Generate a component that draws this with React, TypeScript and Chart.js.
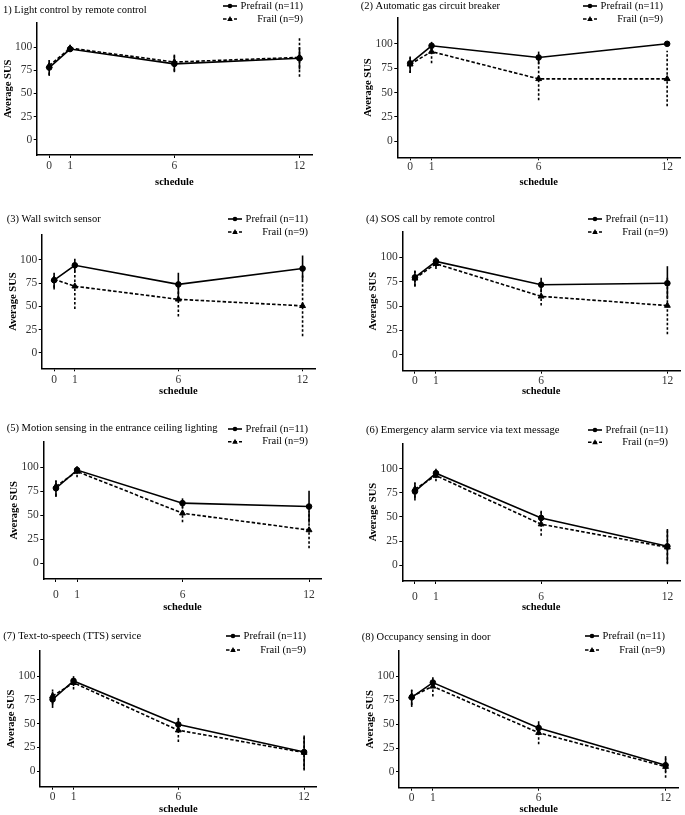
import React, { useEffect, useRef } from "react";
import { Chart, registerables } from "chart.js";

Chart.register(...registerables);

// ---------- DATA ----------
const schedule = [0, 1, 6, 12];
const yTickValues = [0, 25, 50, 75, 100];
const seriesLabels = ["Prefrail (n=11)", "Frail (n=9)"];
const xAxisTitle = "schedule";
const yAxisTitle = "Average SUS";

const panelTitles = [
  "1) Light control by remote control",
  "(2) Automatic gas circuit breaker",
  "(3) Wall switch sensor",
  "(4) SOS call by remote control",
  "(5) Motion sensing in the entrance ceiling lighting",
  "(6) Emergency alarm service via text message",
  "(7) Text-to-speech (TTS) service",
  "(8) Occupancy sensing in door",
];

const prefrailMean = [
  [78, 98, 82, 88],
  [80, 98, 86, 100],
  [78, 94, 73.5, 90.5],
  [79.5, 96, 72, 73.5],
  [78, 97, 62.5, 59],
  [76.5, 95.5, 49, 19.5],
  [75.5, 95, 49, 20],
  [78, 93.5, 46, 7],
];
const prefrailLow = [
  [69, 95, 73, 76],
  [70, 94, 79, 100],
  [68, 87, 60.5, 78],
  [70, 90, 64, 57],
  [69, 93, 57.5, 42],
  [67, 90.5, 42, 2],
  [66.5, 89.5, 41, 2],
  [68, 89.5, 39, 0],
];
const prefrailHigh = [
  [86, 101, 92, 100],
  [87, 102, 92, 100],
  [85, 101, 86, 104.5],
  [86.5, 100, 79, 91],
  [86, 101, 67.5, 75.5],
  [85, 100, 56.5, 37.5],
  [84, 100, 56, 37.5],
  [86, 99, 53, 16.5],
];
const frailMean = [
  [80, 99, 84, 89],
  [79, 92, 64, 64],
  [79, 71.5, 57.5, 50.5],
  [78.5, 93.5, 60, 50.5],
  [80, 95.5, 52, 34.5],
  [79, 93, 42.5, 18.5],
  [79, 93, 43, 19.5],
  [79, 89.5, 41, 5.5],
];
const frailLow = [
  [70, 95, 74, 68],
  [70, 80, 42, 36],
  [70, 47, 39, 18],
  [70, 88, 50.5, 21],
  [70, 89.5, 42.5, 15.5],
  [70, 87, 30.5, 1],
  [70, 86, 30.5, 0.5],
  [70, 79, 29, -6],
];
const frailHigh = [
  [86, 101, 91, 110],
  [86, 100, 86, 93],
  [86, 95, 76, 83],
  [86, 99, 69, 80],
  [86, 100.5, 61, 54],
  [86, 98, 55, 36],
  [86, 97.5, 55, 35.5],
  [86, 98, 50, 14],
];

// ---------- LAYOUT (page pixel positions) ----------
type Lay = {
  cx: number; cy: number; cw: number; ch: number;
  L: number; T: number; R: number; B: number;
  titleX: number; titleY: number;
  legendRight: number; legendY1: number; legendY2: number;
  xTickY: number; xTitleY: number;
};

const layouts: Lay[] = [
  { cx: 0, cy: 0, cw: 340, ch: 198, L: 36.7, T: 22.7, R: 312, B: 155, titleX: 3, titleY: 10.7, legendRight: 303, legendY1: 6, legendY2: 19, xTickY: 165.7, xTitleY: 182 },
  { cx: 340, cy: 0, cw: 345, ch: 198, L: 397.3, T: 18, R: 680, B: 157.3, titleX: 360.7, titleY: 6, legendRight: 663, legendY1: 6, legendY2: 19, xTickY: 166.7, xTitleY: 182 },
  { cx: 0, cy: 205, cw: 340, ch: 200, L: 41.7, T: 235, R: 315, B: 368.3, titleX: 6.7, titleY: 219.3, legendRight: 308, legendY1: 219, legendY2: 232, xTickY: 380, xTitleY: 391.7 },
  { cx: 340, cy: 205, cw: 345, ch: 200, L: 402.3, T: 231.7, R: 684, B: 370.7, titleX: 366, titleY: 219.3, legendRight: 668, legendY1: 219, legendY2: 232, xTickY: 380, xTitleY: 391.7 },
  { cx: 0, cy: 412, cw: 340, ch: 203, L: 43.3, T: 441.7, R: 321.7, B: 579, titleX: 6.7, titleY: 428.3, legendRight: 308, legendY1: 429, legendY2: 441.7, xTickY: 595, xTitleY: 607 },
  { cx: 340, cy: 412, cw: 345, ch: 203, L: 402.3, T: 443.3, R: 681.7, B: 581, titleX: 366, titleY: 430, legendRight: 668, legendY1: 430, legendY2: 442.3, xTickY: 596.7, xTitleY: 607 },
  { cx: 0, cy: 620, cw: 340, ch: 196, L: 40, T: 651, R: 316.7, B: 786.7, titleX: 3.3, titleY: 636.7, legendRight: 306, legendY1: 636, legendY2: 650, xTickY: 796.7, xTitleY: 809.3 },
  { cx: 340, cy: 620, cw: 345, ch: 196, L: 399, T: 651, R: 678.3, B: 787.7, titleX: 361.7, titleY: 637.3, legendRight: 665, legendY1: 636, legendY2: 650, xTickY: 796.7, xTitleY: 809.3 },
];

const FAMILY = '"Liberation Serif", "Times New Roman", serif';

function Panel({ i }: { i: number }) {
  const ref = useRef<HTMLCanvasElement | null>(null);
  const lay = layouts[i];

  useEffect(() => {
    if (!ref.current) return;
    const tickSize = 11.5;
    const titleSize = 10.5;
    const tickLen = 3;
    const lw = 1.6;
    const xTitleLH = titleSize * 1.2;
    const xAxisH = lay.xTitleY + xTitleLH / 2 - lay.B;
    const xTickPad = Math.max(0, lay.xTickY - lay.B - tickLen - (tickSize * 1.2) / 2);
    const yTitlePad = lay.L - 28.7 - lay.cx - xTitleLH / 2;

    const series = [
      { label: seriesLabels[0], mean: prefrailMean[i], lo: prefrailLow[i], hi: prefrailHigh[i], dash: [] as number[], errDash: [] as number[], style: "circle", r: 2.8 },
      { label: seriesLabels[1], mean: frailMean[i], lo: frailLow[i], hi: frailHigh[i], dash: [3.5, 2], errDash: [2.5, 2], style: "triangle", r: 3.4 },
    ];

    const errPlugin = {
      id: "errbars",
      afterDatasetsDraw(chart: any) {
        const ctx = chart.ctx;
        const xs = chart.scales.x;
        const ys = chart.scales.y;
        ctx.save();
        ctx.strokeStyle = "#000";
        ctx.lineWidth = lw;
        series.forEach((s) => {
          ctx.setLineDash(s.errDash);
          schedule.forEach((t, k) => {
            const px = xs.getPixelForValue(t);
            ctx.beginPath();
            ctx.moveTo(px, ys.getPixelForValue(s.lo[k]));
            ctx.lineTo(px, ys.getPixelForValue(s.hi[k]));
            ctx.stroke();
          });
        });
        ctx.restore();
      },
    };

    const textPlugin = {
      id: "paneltext",
      afterDraw(chart: any) {
        const ctx = chart.ctx;
        ctx.save();
        ctx.fillStyle = "#000";
        ctx.font = `${titleSize}px ${FAMILY}`;
        ctx.textBaseline = "middle";
        ctx.textAlign = "left";
        ctx.fillText(panelTitles[i], lay.titleX - lay.cx, lay.titleY - lay.cy);
        const rows = [lay.legendY1, lay.legendY2];
        series.forEach((s, k) => {
          const y = rows[k] - lay.cy;
          const right = lay.legendRight - lay.cx;
          const kx = right - 80;
          ctx.strokeStyle = "#000";
          ctx.lineWidth = lw;
          ctx.setLineDash(s.dash);
          ctx.beginPath();
          ctx.moveTo(kx, y);
          ctx.lineTo(kx + 14, y);
          ctx.stroke();
          ctx.setLineDash([]);
          const mx = kx + 7;
          ctx.beginPath();
          if (s.style === "circle") {
            ctx.arc(mx, y, 2.3, 0, Math.PI * 2);
          } else {
            ctx.moveTo(mx, y - 3);
            ctx.lineTo(mx + 2.8, y + 2);
            ctx.lineTo(mx - 2.8, y + 2);
            ctx.closePath();
          }
          ctx.fill();
          ctx.textAlign = "right";
          ctx.fillText(s.label, right, y);
        });
        ctx.restore();
      },
    };

    const gridOpts = {
      display: true,
      drawOnChartArea: false,
      drawTicks: true,
      tickLength: tickLen,
      color: "#000",
      lineWidth: 1,
    };
    const borderOpts = { display: true, color: "#000", width: 1.5 };

    const chart = new Chart(ref.current, {
      type: "line",
      data: {
        datasets: series.map((s) => ({
          label: s.label,
          data: schedule.map((t, k) => ({ x: t, y: s.mean[k] })),
          borderColor: "#000",
          backgroundColor: "#000",
          borderWidth: lw,
          borderDash: s.dash,
          pointStyle: s.style as any,
          pointRadius: s.r,
          pointBackgroundColor: "#000",
          pointBorderColor: "#000",
          pointBorderWidth: 1,
          tension: 0,
          fill: false,
        })),
      },
      options: {
        animation: false,
        responsive: false,
        events: [],
        layout: {
          padding: {
            left: 0,
            top: lay.T - lay.cy,
            right: lay.cx + lay.cw - lay.R,
            bottom: Math.max(0, lay.cy + lay.ch - (lay.B + xAxisH)),
          },
        },
        plugins: {
          legend: { display: false },
          tooltip: { enabled: false },
          title: { display: false },
        },
        scales: {
          x: {
            type: "linear",
            min: -0.6,
            max: 12.6,
            afterBuildTicks: (s: any) => {
              s.ticks = schedule.map((v) => ({ value: v }));
            },
            afterFit: (s: any) => {
              s.height = xAxisH;
            },
            grid: gridOpts,
            border: borderOpts,
            ticks: {
              color: "#333",
              font: { family: FAMILY, size: tickSize },
              padding: xTickPad,
              maxRotation: 0,
              autoSkip: false,
            },
            title: {
              display: true,
              text: xAxisTitle,
              color: "#000",
              font: { family: FAMILY, size: titleSize, weight: "bold" },
              padding: 0,
            },
          },
          y: {
            type: "linear",
            min: -16.5,
            max: 126.5,
            afterBuildTicks: (s: any) => {
              s.ticks = yTickValues.map((v) => ({ value: v }));
            },
            afterFit: (s: any) => {
              s.width = lay.L - lay.cx;
            },
            grid: gridOpts,
            border: borderOpts,
            ticks: {
              color: "#333",
              font: { family: FAMILY, size: tickSize },
              padding: 1.5,
            },
            title: {
              display: true,
              text: yAxisTitle,
              color: "#000",
              font: { family: FAMILY, size: titleSize, weight: "bold" },
              padding: { top: yTitlePad, bottom: 0 },
            },
          },
        },
      } as any,
      plugins: [errPlugin, textPlugin],
    });
    return () => chart.destroy();
  }, [i]);

  return (
    <canvas
      ref={ref}
      width={lay.cw}
      height={lay.ch}
      style={{ position: "absolute", left: lay.cx, top: lay.cy, width: lay.cw, height: lay.ch }}
    />
  );
}

export default function App() {
  return (
    <div
      style={{
        position: "absolute",
        left: 0,
        top: 0,
        width: 685,
        height: 815,
        overflow: "hidden",
        background: "#fff",
      }}
    >
      {layouts.map((_, i) => (
        <Panel key={i} i={i} />
      ))}
    </div>
  );
}
